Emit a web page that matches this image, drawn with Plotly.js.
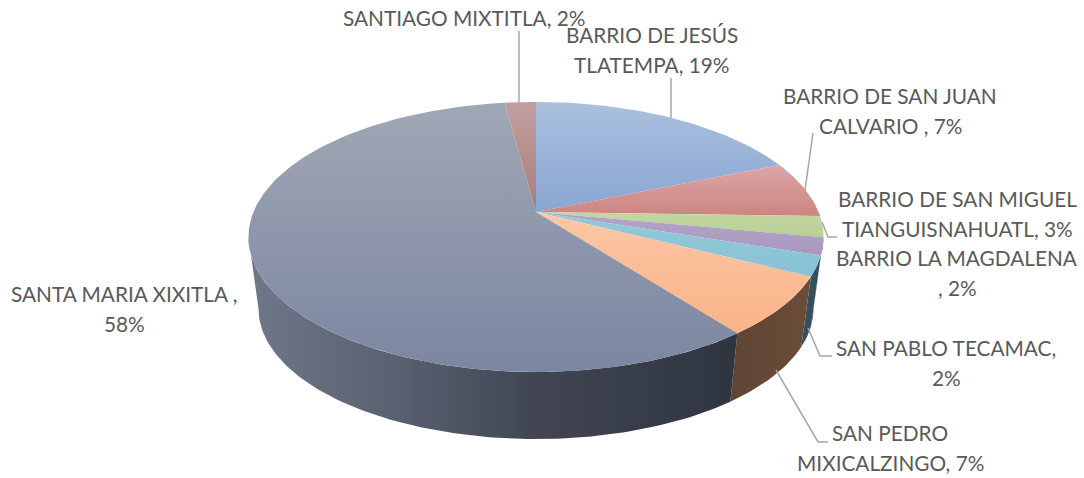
<!DOCTYPE html>
<html>
<head>
<meta charset="utf-8">
<script src="https://cdn.plot.ly/plotly-3.0.1.min.js"></script>
<style>html,body{margin:0;padding:0;background:#fff;overflow:hidden}#chart{width:1084px;height:478px}</style>
</head>
<body>
<div id="chart"></div>
<script>
// Data
const categories = ["BARRIO DE JESÚS TLATEMPA","BARRIO DE SAN JUAN CALVARIO ","BARRIO DE SAN MIGUEL TIANGUISNAHUATL","BARRIO LA MAGDALENA ","SAN PABLO TECAMAC","SAN PEDRO MIXICALZINGO","SANTA MARIA XIXITLA ","SANTIAGO MIXTITLA"];
const shares = [18.7, 6.8, 2.5, 2.1, 2.4, 7.1, 58.3, 2.1];
const labelLines = [
  ["BARRIO DE JESÚS","TLATEMPA, 19%"],
  ["BARRIO DE SAN JUAN","CALVARIO , 7%"],
  ["BARRIO DE SAN MIGUEL","TIANGUISNAHUATL, 3%"],
  ["BARRIO LA MAGDALENA",", 2%"],
  ["SAN PABLO TECAMAC,","2%"],
  ["SAN PEDRO","MIXICALZINGO, 7%"],
  ["SANTA MARIA XIXITLA ,","58%"],
  ["SANTIAGO MIXTITLA, 2%"]
];

// Styles
const topColors = [
  ["#abc0de","#89a5d2"],["#dca6a5","#cc8581"],["#c2d6a2","#b8d094"],["#b3a5c8","#a898bd"],
  ["#93c9da","#88c2d4"],["#fcc7a6","#fab386"],["#a0a7b5","#7b86a1"],["#c29e9e","#ab7d7d"]
];
const wallColors = [
  null,null,null,
  [[0,"#4e4560"],[1,"#4e4560"]],
  [[0,"#33505c"],[1,"#33505c"]],
  [[0,"#6b4c39"],[1,"#604535"]],
  [[0,"#2f3540"],[0.42,"#414652"],[0.72,"#5b6272"],[1,"#6f7889"]],
  null
];
const labelCenters = [[652,34],[890,95],[957,198],[957,257],[946,347],[890,432],[124,293],[464,17]];
const lineStep = 30;
const leaders = [
  [[519,31],[519,102]],
  [[671,78],[671,118]],
  [[813,133],[805,190]],
  [[837,237],[828,237],[822,222]],
  [[832,356],[820,356],[808,328]],
  [[828,442],[818,442],[776,370]]
];

// Perspective projection of the pie disc
const cx=536, apexY=212, kx=282.6, ky=130.4, persp=-0.185;
const wallScale=0.965, vanishY=2286;
function rim(deg){
  const t=deg*Math.PI/180, u=Math.sin(t), v=-Math.cos(t), d=1+persp*v;
  return [cx+kx*u/d, apexY+ky*v/d];
}
function lower(p){ return [cx+wallScale*(p[0]-cx), vanishY+wallScale*(p[1]-vanishY)]; }
function arc(a,b){
  const n=Math.max(2,Math.ceil(Math.abs(b-a))), out=[];
  for(let i=0;i<=n;i++) out.push(rim(a+(b-a)*i/n));
  return out;
}

const total=shares.reduce((s,v)=>s+v,0);
const visibleFrom=Math.acos(persp)*180/Math.PI, visibleTo=360-visibleFrom;
const walls=[], tops=[];
let cum=0;
shares.forEach((val,i)=>{
  const a=cum/total*360, b=(cum+val)/total*360; cum+=val;
  const p=[[cx,apexY]].concat(arc(a,b)); p.push([cx,apexY]);
  const ys=p.map(q=>q[1]);
  tops.push({type:"scatter",mode:"lines",name:categories[i],x:p.map(q=>q[0]),y:ys,fill:"toself",
    line:{width:0},hoverinfo:"skip",showlegend:false,
    fillgradient:{type:"vertical",colorscale:[[0,topColors[i][0]],[1,topColors[i][1]]],start:Math.min(...ys),stop:Math.max(...ys)}});
  const wa=Math.max(a,visibleFrom), wb=Math.min(b,visibleTo);
  if(wb>wa && wallColors[i]){
    const up=arc(wa,wb), lo=up.map(lower).reverse(), w=up.concat(lo); w.push(up[0]);
    const xs=w.map(q=>q[0]);
    walls.push({type:"scatter",mode:"lines",name:categories[i]+" (side)",x:xs,y:w.map(q=>q[1]),fill:"toself",
      line:{width:0},hoverinfo:"skip",showlegend:false,
      fillgradient:{type:"horizontal",colorscale:wallColors[i].map(s=>[s[0],s[1]]),start:Math.max(...xs),stop:Math.min(...xs)}});
  }
});

const annotations=[];
labelLines.forEach((lines,i)=>{
  lines.forEach((txt,j)=>{
    annotations.push({xref:"x",yref:"y",x:labelCenters[i][0],y:labelCenters[i][1]+j*lineStep,text:txt,showarrow:false,
      xanchor:"center",yanchor:"middle",font:{family:"Lato, Carlito, sans-serif",size:20.8,color:"#595959"}});
  });
});
const shapes=leaders.map(pts=>({type:"path",xref:"x",yref:"y",
  path:pts.map((q,i)=>(i?"L":"M")+q[0]+" "+q[1]).join(" "),line:{color:"#a6a6a6",width:1.5}}));

Plotly.newPlot("chart",walls.concat(tops),{
  width:1084,height:478,margin:{l:0,r:0,t:0,b:0},paper_bgcolor:"#fff",plot_bgcolor:"#fff",showlegend:false,
  xaxis:{range:[0,1084],visible:false,fixedrange:true},
  yaxis:{range:[478,0],visible:false,fixedrange:true},
  annotations,shapes
},{displayModeBar:false,staticPlot:true});
</script>
</body>
</html>
